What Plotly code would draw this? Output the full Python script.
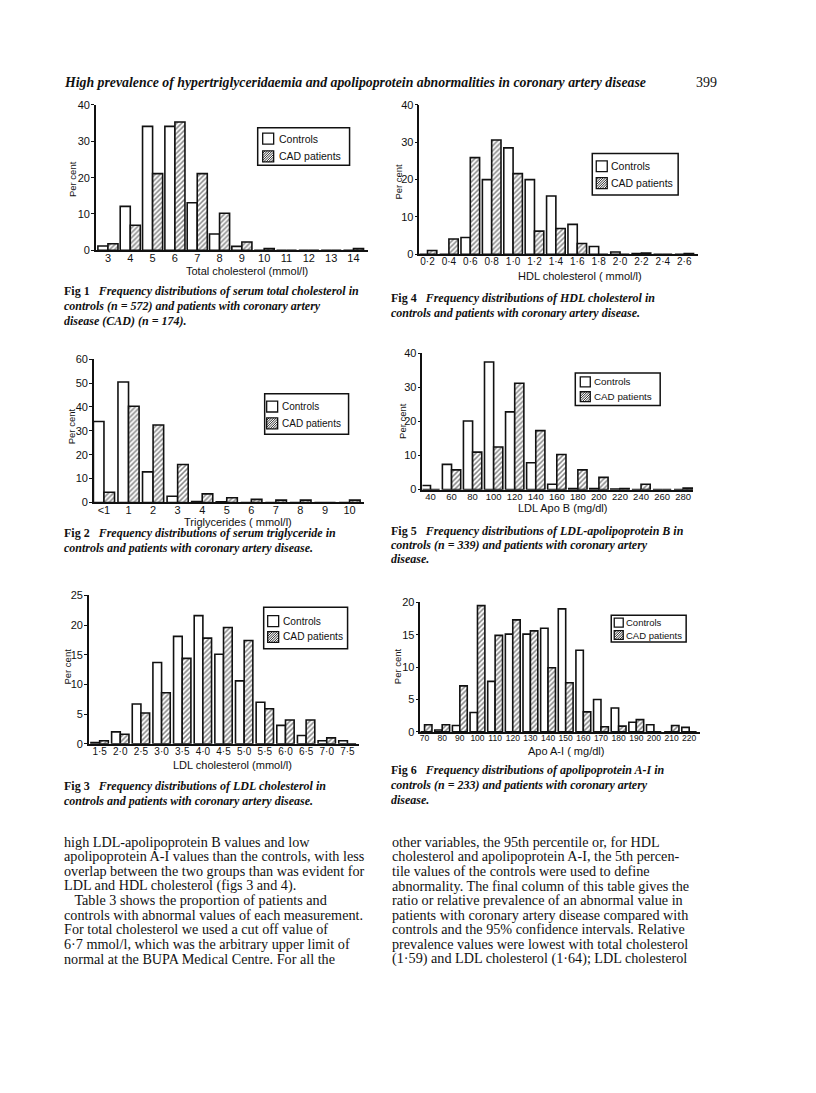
import plotly.graph_objects as go

W, H = 816, 1093          # page size
M = 8                     # default body margin of the html page
FW, FH = W - 2 * M, H - 2 * M

# ---------------- data ----------------
# Fig 1: total cholesterol (mmol/l)
tc_x = [3, 4, 5, 6, 7, 8, 9, 10, 11, 12, 13, 14]
tc_labels = ["3", "4", "5", "6", "7", "8", "9", "10", "11", "12", "13", "14"]
tc_controls = [1.2, 12.1, 34.1, 34.1, 13.1, 4.5, 1.1, 0, 0, 0, 0, 0]
tc_cad = [1.8, 6.9, 21.1, 35.3, 21.1, 10.2, 2.3, 0.5, 0, 0, 0, 0.5]

# Fig 2: triglycerides (mmol/l)
tg_labels = ["<1", "1", "2", "3", "4", "5", "6", "7", "8", "9", "10"]
tg_controls = [33.9, 50.4, 12.8, 2.6, 0.4, 0.3, 0, 0, 0, 0, 0]
tg_cad = [4.3, 40.3, 32.4, 15.9, 3.6, 2.0, 1.3, 1.0, 1.0, 0, 1.0]

# Fig 3: LDL cholesterol (mmol/l)
ldl_x = [1.5, 2.0, 2.5, 3.0, 3.5, 4.0, 4.5, 5.0, 5.5, 6.0, 6.5, 7.0, 7.5]
ldl_labels = ["1·5", "2·0", "2·5", "3·0", "3·5", "4·0", "4·5", "5·0", "5·5",
              "6·0", "6·5", "7·0", "7·5"]
ldl_controls = [0.2, 2.0, 6.7, 13.7, 18.1, 21.6, 15.1, 10.6, 7.0, 3.1, 1.4, 0.5, 0.5]
ldl_cad = [0.5, 1.6, 5.2, 8.6, 14.4, 17.8, 19.6, 17.4, 5.9, 4.0, 4.0, 1.0, 0]

# Fig 4: HDL cholesterol (mmol/l)
hdl_x = [0.2, 0.4, 0.6, 0.8, 1.0, 1.2, 1.4, 1.6, 1.8, 2.0, 2.2, 2.4, 2.6]
hdl_labels = ["0·2", "0·4", "0·6", "0·8", "1·0", "1·2", "1·4", "1·6", "1·8",
              "2·0", "2·2", "2·4", "2·6"]
hdl_controls = [0, 0, 4.5, 20.0, 28.5, 20.0, 15.6, 8.0, 2.1, 0.6, 0.2, 0, 0]
hdl_cad = [1.0, 4.1, 25.9, 30.6, 21.6, 6.2, 6.9, 2.9, 0, 0, 0.3, 0, 0.2]

# Fig 5: LDL apo B (mg/dl)
apob_x = [40, 60, 80, 100, 120, 140, 160, 180, 200, 220, 240, 260, 280]
apob_labels = ["40", "60", "80", "100", "120", "140", "160", "180", "200",
               "220", "240", "260", "280"]
apob_controls = [1.2, 7.4, 20.1, 37.4, 22.8, 7.9, 1.6, 0.3, 0.3, 0.2, 0, 0, 0]
apob_cad = [0, 5.8, 11.0, 12.5, 31.2, 17.3, 10.3, 5.8, 3.6, 0.3, 1.6, 0, 0.5]

# Fig 6: apo A-I (mg/dl)
apoa_x = [70, 80, 90, 100, 110, 120, 130, 140, 150, 160, 170, 180, 190, 200, 210, 220]
apoa_labels = ["70", "80", "90", "100", "110", "120", "130", "140", "150", "160",
               "170", "180", "190", "200", "210", "220"]
apoa_controls = [0, 0.3, 1.0, 3.0, 7.8, 15.1, 15.1, 16.0, 19.0, 12.6, 5.0, 3.7, 1.5, 1.1, 0, 0.7]
apoa_cad = [1.1, 1.1, 7.1, 19.5, 14.9, 17.3, 15.6, 9.9, 7.6, 3.1, 0.8, 0.9, 1.9, 0, 1.0, 0]

series_names = ["Controls", "CAD patients"]

header_text = ("High prevalence of hypertriglyceridaemia and apolipoprotein "
               "abnormalities in coronary artery disease")
page_number = "399"

captions = {
    1: ["Frequency distributions of serum total cholesterol in",
        "controls (n = 572) and patients with coronary artery",
        "disease (CAD) (n = 174)."],
    2: ["Frequency distributions of serum triglyceride in",
        "controls and patients with coronary artery disease."],
    3: ["Frequency distributions of LDL cholesterol in",
        "controls and patients with coronary artery disease."],
    4: ["Frequency distributions of HDL cholesterol in",
        "controls and patients with coronary artery disease."],
    5: ["Frequency distributions of LDL-apolipoprotein B in",
        "controls (n = 339) and patients with coronary artery",
        "disease."],
    6: ["Frequency distributions of apolipoprotein A-I in",
        "controls (n = 233) and patients with coronary artery",
        "disease."],
}

x_titles = {1: "Total cholesterol (mmol/l)", 2: "Triglycerides ( mmol/l)",
            3: "LDL cholesterol (mmol/l)", 4: "HDL cholesterol ( mmol/l)",
            5: "LDL Apo B (mg/dl)", 6: "Apo A-I ( mg/dl)"}

body_left = [
    "high LDL-apolipoprotein B values and low",
    "apolipoprotein A-I values than the controls, with less",
    "overlap between the two groups than was evident for",
    "LDL and HDL cholesterol (figs 3 and 4).",
    "   Table 3 shows the proportion of patients and",
    "controls with abnormal values of each measurement.",
    "For total cholesterol we used a cut off value of",
    "6·7 mmol/l, which was the arbitrary upper limit of",
    "normal at the BUPA Medical Centre. For all the",
]
body_right = [
    "other variables, the 95th percentile or, for HDL",
    "cholesterol and apolipoprotein A-I, the 5th percen-",
    "tile values of the controls were used to define",
    "abnormality. The final column of this table gives the",
    "ratio or relative prevalence of an abnormal value in",
    "patients with coronary artery disease compared with",
    "controls and the 95% confidence intervals. Relative",
    "prevalence values were lowest with total cholesterol",
    "(1·59) and LDL cholesterol (1·64); LDL cholesterol",
]


# ---------------- layout helpers ----------------
def fx(px):
    return (px - M) / FW


def fy(py):
    return 1 - (py - M) / FH


SANS = "Liberation Sans, Arial, sans-serif"
SERIF = "Liberation Serif, Times New Roman, serif"
INK = "#111111"

panels = [
    dict(n=1, x=tc_x, labels=tc_labels, c=tc_controls, d=tc_cad,
         xd=(95, 367), yd=(100, 247), xr=[2.46, 14.63], ymax=40, dt=10, bw=0.45,
         xfs=11,
         leg=dict(box=(257, 123, 349, 161), sx=262, ss=11, rows=(134, 152), tx=277, fs=10.5),
         pc=(71, 175), xt=(246, 268), cap=[288, 303, 318], cx=62),
    dict(n=4, x=hdl_x, labels=hdl_labels, c=hdl_controls, d=hdl_cad,
         xd=(419, 698), yd=(100, 251), xr=[0.125, 2.73], ymax=40, dt=10, bw=0.087,
         xfs=10,
         leg=dict(box=(592, 149, 678, 191), sx=596, ss=11, rows=(162, 179), tx=610, fs=10.5),
         pc=(398, 178), xt=(580, 273), cap=[295, 310], cx=389),
    dict(n=2, x=list(range(len(tg_labels))), labels=tg_labels, c=tg_controls, d=tg_cad,
         xd=(93, 363), yd=(357, 502), xr=[-0.41, 10.57], ymax=60, dt=10, bw=0.43,
         xfs=11,
         leg=dict(box=(264, 392, 348, 433), sx=266, ss=11, rows=(405, 422), tx=280, fs=10),
         pc=(70, 425), xt=(237, 522), cap=[533, 548], cx=62),
    dict(n=5, x=apob_x, labels=apob_labels, c=apob_controls, d=apob_cad,
         xd=(422, 693), yd=(351, 489), xr=[32.4, 289.5], ymax=40, dt=10, bw=8.7,
         xfs=9.5,
         leg=dict(box=(575, 371, 660, 404), sx=580, ss=10, rows=(380, 395), tx=593, fs=9.8),
         pc=(402, 420), xt=(562, 508), cap=[531, 545, 559], cx=389),
    dict(n=3, x=ldl_x, labels=ldl_labels, c=ldl_controls, d=ldl_cad,
         xd=(88, 358), yd=(596, 746), xr=[1.24, 7.77], ymax=25, dt=5, bw=0.21,
         xfs=10,
         leg=dict(box=(263, 608, 347, 650), sx=267, ss=11, rows=(622, 638), tx=281, fs=10.2),
         pc=(67, 668), xt=(232, 767), cap=[789, 804], cx=62),
    dict(n=6, x=apoa_x, labels=apoa_labels, c=apoa_controls, d=apoa_cad,
         xd=(420, 700), yd=(603, 734), xr=[67.7, 226.2], ymax=20, dt=5, bw=4.2,
         xfs=8.5,
         leg=dict(box=(611, 616, 686, 643), sx=614, ss=9, rows=(623.5, 636), tx=625, fs=9.5),
         pc=(397, 668), xt=(566, 753), cap=[773, 788, 803], cx=389),
]

fig = go.Figure()
annotations = []
shapes = []
layout_axes = {}


def hatch_path(x0, y0, s, step=2.4):
    """diagonal '/' hatch lines inside a square (pixel coords, y down)."""
    segs = []
    c = x0 + y0 + step
    while c < x0 + y0 + 2 * s:
        xa = max(x0, c - (y0 + s))
        xb = min(x0 + s, c - y0)
        segs.append(f"M{fx(xa):.5f},{fy(c - xa):.5f}L{fx(xb):.5f},{fy(c - xb):.5f}")
        c += step
    return "".join(segs)


def note(px, py, text, size, family=SANS, xanchor="center", angle=0):
    annotations.append(dict(
        x=fx(px), y=fy(py), xref="paper", yref="paper", text=text,
        showarrow=False, xanchor=xanchor, yanchor="middle", textangle=angle,
        borderpad=0, font=dict(family=family, size=size, color=INK)))


for i, p in enumerate(panels, start=1):
    xa = "x" if i == 1 else f"x{i}"
    ya = "y" if i == 1 else f"y{i}"

    fig.add_trace(go.Bar(
        x=p["x"], y=p["c"], name=series_names[0], xaxis=xa, yaxis=ya,
        width=p["bw"], offset=-p["bw"], showlegend=False,
        marker=dict(color="white", line=dict(color=INK, width=1.6)),
        hoverinfo="skip"))
    fig.add_trace(go.Bar(
        x=p["x"], y=p["d"], name=series_names[1], xaxis=xa, yaxis=ya,
        width=p["bw"], offset=0, showlegend=False,
        marker=dict(color="white", line=dict(color=INK, width=1.6),
                    pattern=dict(shape="/", fgcolor=INK, bgcolor="white",
                                 size=3.5, solidity=0.45)),
        hoverinfo="skip"))

    xk = "xaxis" if i == 1 else f"xaxis{i}"
    yk = "yaxis" if i == 1 else f"yaxis{i}"
    layout_axes[xk] = dict(
        domain=[fx(p["xd"][0]), fx(p["xd"][1])], anchor=ya, range=p["xr"],
        tickvals=p["x"], ticktext=p["labels"], ticks="", showgrid=False,
        zeroline=False, showline=True, linecolor=INK, linewidth=1.6,
        ticklabelstandoff=-3,
        tickfont=dict(family=SANS, size=p["xfs"], color=INK),
        tickangle=0, fixedrange=True)
    layout_axes[yk] = dict(
        domain=[fy(p["yd"][1]), fy(p["yd"][0])], anchor=xa, range=[0, p["ymax"]],
        dtick=p["dt"], tick0=0, ticks="outside", ticklen=3, tickwidth=1.4,
        tickcolor=INK, showgrid=False, zeroline=False, showline=True,
        linecolor=INK, linewidth=1.6, ticklabelstandoff=-1,
        tickfont=dict(family=SANS, size=11, color=INK), fixedrange=True)

    # legend (box, swatches, labels)
    lg = p["leg"]
    bx0, by0, bx1, by1 = lg["box"]
    shapes.append(dict(type="rect", xref="paper", yref="paper",
                       x0=fx(bx0), x1=fx(bx1), y0=fy(by1), y1=fy(by0),
                       line=dict(color=INK, width=1.5), fillcolor="white", layer="above"))
    for r, (row_y, name) in enumerate(zip(lg["rows"], series_names)):
        s = lg["ss"]
        sx0, sy0 = lg["sx"], row_y - s / 2
        shapes.append(dict(type="rect", xref="paper", yref="paper",
                           x0=fx(sx0), x1=fx(sx0 + s), y0=fy(sy0 + s), y1=fy(sy0),
                           line=dict(color=INK, width=1.3), fillcolor="white",
                           layer="above"))
        if r == 1:
            shapes.append(dict(type="path", xref="paper", yref="paper",
                               path=hatch_path(sx0, sy0, s),
                               line=dict(color=INK, width=0.9), layer="above"))
        note(lg["tx"], row_y, name, lg["fs"], xanchor="left")

    note(p["pc"][0], p["pc"][1], "Per cent", 9.5, angle=-90)
    note(p["xt"][0], p["xt"][1], x_titles[p["n"]], 11)
    for j, (line, yy) in enumerate(zip(captions[p["n"]], p["cap"])):
        if j == 0:
            txt = f"<b>Fig {p['n']}</b>   <b><i>{line}</i></b>"
        else:
            txt = f"<b><i>{line}</i></b>"
        note(p["cx"], yy, txt, 12, family=SERIF, xanchor="left")

# header
note(62, 77, f"<b><i>{header_text}</i></b>", 13.8, family=SERIF, xanchor="left")
note(718, 77, page_number, 14, family=SERIF, xanchor="right")

# body text
body_y0, body_dy = 845, 14.8
for k, line in enumerate(body_left):
    note(62, body_y0 + k * body_dy, line, 14.2, family=SERIF, xanchor="left")
for k, line in enumerate(body_right):
    note(390, body_y0 + k * body_dy, line, 14.2, family=SERIF, xanchor="left")

fig.update_layout(
    width=FW, height=FH, margin=dict(l=0, r=0, t=0, b=0),
    paper_bgcolor="white", plot_bgcolor="white",
    barmode="overlay", showlegend=False,
    annotations=annotations, shapes=shapes, **layout_axes)

fig.write_html("out.html", config={"displayModeBar": False})
